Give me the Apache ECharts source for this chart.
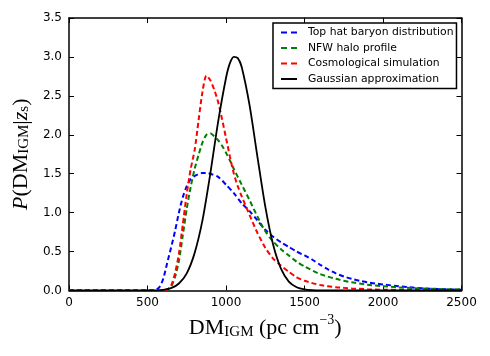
<!DOCTYPE html>
<html>
<head>
<meta charset="utf-8">
<script src="https://cdn.jsdelivr.net/npm/echarts/dist/echarts.min.js"></script>
<style>
  html, body { margin: 0; padding: 0; background: #fff; }
  #main { width: 490px; height: 356px; }
</style>
</head>
<body>
<div id="main"></div>
<script>
    // values
    var topHatDM = [0, 525, 550, 575, 600, 625, 650, 675, 700, 725, 750, 775, 800, 850, 875, 900, 950, 1000, 1050, 1100, 1150, 1200, 1250, 1300, 1350, 1400, 1450, 1500, 1550, 1600, 1650, 1700, 1750, 1800, 1850, 1900, 1950, 2000, 2100, 2200, 2300, 2400, 2500];
    var topHatP = [0, 0, 0.005, 0.04, 0.15, 0.35, 0.55, 0.76, 1.0, 1.2, 1.34, 1.43, 1.47, 1.51, 1.51, 1.5, 1.46, 1.36, 1.25, 1.12, 1.02, 0.9, 0.78, 0.69, 0.62, 0.56, 0.5, 0.45, 0.395, 0.33, 0.27, 0.22, 0.18, 0.15, 0.125, 0.105, 0.09, 0.077, 0.055, 0.035, 0.024, 0.016, 0.011];

    var nfwDM = [0, 600, 625, 650, 675, 700, 725, 750, 775, 800, 825, 850, 875, 900, 925, 950, 975, 1000, 1025, 1050, 1100, 1150, 1200, 1250, 1300, 1350, 1400, 1450, 1500, 1600, 1700, 1800, 1900, 2000, 2100, 2200, 2300, 2400, 2500];
    var nfwP = [0, 0, 0.01, 0.05, 0.17, 0.38, 0.71, 1.05, 1.33, 1.56, 1.74, 1.9, 2.0, 2.02, 1.98, 1.93, 1.86, 1.77, 1.67, 1.56, 1.36, 1.16, 0.95, 0.76, 0.63, 0.53, 0.45, 0.37, 0.31, 0.21, 0.15, 0.105, 0.075, 0.056, 0.04, 0.03, 0.022, 0.017, 0.013];

    var cosmoDM = [0, 600, 625, 650, 675, 700, 725, 750, 775, 800, 825, 850, 875, 900, 925, 950, 975, 1000, 1025, 1050, 1075, 1100, 1150, 1200, 1250, 1300, 1350, 1400, 1450, 1500, 1600, 1700, 1800, 1900, 2000, 2200, 2500];
    var cosmoP = [0, 0, 0.01, 0.06, 0.22, 0.47, 0.85, 1.24, 1.56, 1.8, 2.18, 2.55, 2.76, 2.7, 2.58, 2.42, 2.2, 1.96, 1.72, 1.5, 1.34, 1.21, 0.97, 0.74, 0.55, 0.41, 0.32, 0.24, 0.17, 0.125, 0.07, 0.042, 0.027, 0.016, 0.01, 0.005, 0.002];

    var gaussDM = [0, 550, 600, 650, 700, 750, 800, 850, 900, 950, 1000, 1025, 1050, 1075, 1100, 1150, 1200, 1250, 1300, 1350, 1400, 1450, 1500, 1550, 1600, 2500];
    var gaussP = [0, 0.002, 0.009, 0.03, 0.09, 0.22, 0.48, 0.9, 1.5, 2.17, 2.73, 2.92, 3.0, 2.985, 2.87, 2.38, 1.72, 1.08, 0.59, 0.28, 0.115, 0.042, 0.013, 0.003, 0, 0];

    var seriesNames = ['Top hat baryon distribution', 'NFW halo profile', 'Cosmological simulation', 'Gaussian approximation'];
    var xTicks = [0, 2500, 500];
    var yTicks = [0, 3.5, 0.5];

    function pairs(xs, ys) {
        var out = [];
        for (var i = 0; i < xs.length; i++) out.push([xs[i], ys[i]]);
        return out;
    }

    var myChart = echarts.init(document.getElementById('main'));

    var serif = 'Liberation Serif';
    var sans = 'DejaVu Sans';
    var dashIcon = 'path://M0,0H6V2H0Z M10,0H16V2H10Z';
    var solidIcon = 'path://M0,0H16V2H0Z';

    function mkLine(name, xs, ys, color, dashed) {
        return {
            name: name,
            type: 'line',
            data: pairs(xs, ys),
            showSymbol: false,
            symbol: 'none',
            smooth: 0.25,
            lineStyle: { color: color, width: dashed ? 2 : 1.8, type: dashed ? [5, 3] : 'solid' },
            itemStyle: { color: color },
            animation: false
        };
    }

    var axisLineStyle = { onZero: false, lineStyle: { color: '#000', width: 1.5 } };
    var tickStyle = { inside: true, length: 5, lineStyle: { color: '#000', width: 1 } };

    var option = {
        animation: false,
        grid: { left: 69, right: 28.5, top: 18, bottom: 65.5 },
        legend: {
            left: 273,
            top: 23,
            orient: 'vertical',
            data: [
                { name: seriesNames[0], icon: dashIcon },
                { name: seriesNames[1], icon: dashIcon },
                { name: seriesNames[2], icon: dashIcon },
                { name: seriesNames[3], icon: solidIcon }
            ],
            itemWidth: 16,
            itemHeight: 2,
            itemGap: 2.5,
            padding: [3, 3, 3, 8],
            borderColor: '#000',
            borderWidth: 1.5,
            backgroundColor: '#fff',
            borderRadius: 0,
            textStyle: { fontFamily: sans, fontSize: 10.8, color: '#000', lineHeight: 13, padding: [0, 0, 0, 6] }
        },
        xAxis: [
            {
                type: 'value',
                min: xTicks[0], max: xTicks[1], interval: xTicks[2],
                position: 'bottom',
                axisLine: axisLineStyle,
                axisTick: tickStyle,
                splitLine: { show: false },
                axisLabel: {
                    color: '#000', fontFamily: sans, fontSize: 12, margin: 6,
                    formatter: function (v) { return String(v); }
                },
                name: '{t|DM}{sub|IGM}{t| (pc cm}{sup|−3}{t|)}',
                nameLocation: 'middle',
                nameGap: 12,
                nameTextStyle: {
                    rich: {
                        t: { fontFamily: serif, fontSize: 22, color: '#000', lineHeight: 26, verticalAlign: 'bottom' },
                        sub: { fontFamily: serif, fontSize: 15, color: '#000', lineHeight: 8, verticalAlign: 'bottom' },
                        sup: { fontFamily: serif, fontSize: 14, color: '#000', lineHeight: 12, verticalAlign: 'top' }
                    }
                }
            },
            {
                type: 'value',
                min: xTicks[0], max: xTicks[1], interval: xTicks[2],
                position: 'top',
                axisLine: axisLineStyle,
                axisTick: tickStyle,
                splitLine: { show: false },
                axisLabel: { show: false }
            }
        ],
        yAxis: [
            {
                type: 'value',
                min: yTicks[0], max: yTicks[1], interval: yTicks[2],
                position: 'left',
                axisLine: axisLineStyle,
                axisTick: tickStyle,
                splitLine: { show: false },
                axisLabel: {
                    color: '#000', fontFamily: sans, fontSize: 12, margin: 7,
                    formatter: function (v) { return v.toFixed(1); }
                },
                name: '{i|P}{t|(DM}{sub|IGM}{t||}{i|z}{sub|s}{t|)}',
                nameLocation: 'middle',
                nameRotate: 90,
                nameGap: 32,
                nameTextStyle: {
                    rich: {
                        t: { fontFamily: serif, fontSize: 22, color: '#000', lineHeight: 26, verticalAlign: 'bottom' },
                        i: { fontFamily: serif, fontStyle: 'italic', fontSize: 22, color: '#000', lineHeight: 26, verticalAlign: 'bottom' },
                        sub: { fontFamily: serif, fontSize: 15, color: '#000', lineHeight: 8, verticalAlign: 'bottom' }
                    }
                }
            },
            {
                type: 'value',
                min: yTicks[0], max: yTicks[1], interval: yTicks[2],
                position: 'right',
                axisLine: axisLineStyle,
                axisTick: tickStyle,
                splitLine: { show: false },
                axisLabel: { show: false }
            }
        ],
        series: [
            mkLine(seriesNames[0], topHatDM, topHatP, '#0000ff', true),
            mkLine(seriesNames[1], nfwDM, nfwP, '#008000', true),
            mkLine(seriesNames[2], cosmoDM, cosmoP, '#ff0000', true),
            mkLine(seriesNames[3], gaussDM, gaussP, '#000000', false)
        ]
    };
    myChart.setOption(option);
</script>
</body>
</html>
